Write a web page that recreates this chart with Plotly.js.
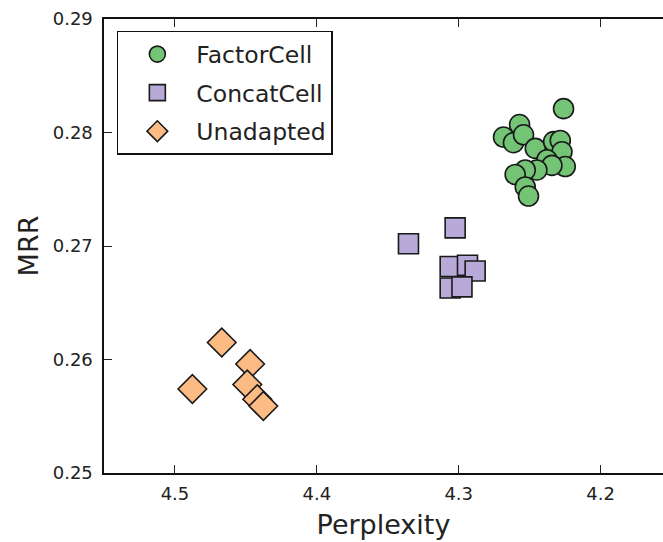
<!DOCTYPE html>
<html>
<head>
<meta charset="utf-8">
<script src="https://cdn.plot.ly/plotly-3.0.1.min.js"></script>
<style>html,body{margin:0;padding:0;background:#fff;}#chart{width:663px;height:542px;}</style>
</head>
<body>
<div id="chart"></div>
<script>
// Perplexity (x) and MRR (y) per model variant
const factorCellPerplexity = [4.2261, 4.2571, 4.2684, 4.2614, 4.2543, 4.2460, 4.2331, 4.2284, 4.2272, 4.2378, 4.2249, 4.2343, 4.2449, 4.2531, 4.2602, 4.2531, 4.2508];
const factorCellMRR        = [0.2821, 0.2807, 0.2796, 0.2791, 0.2798, 0.2786, 0.2792, 0.2793, 0.2783, 0.2776, 0.2770, 0.2771, 0.2767, 0.2767, 0.2763, 0.2752, 0.2744];

const concatCellPerplexity = [4.3354, 4.3025, 4.3060, 4.2938, 4.2884, 4.3060, 4.2977];
const concatCellMRR        = [0.2702, 0.2716, 0.2682, 0.2683, 0.2678, 0.2663, 0.2664];

const unadaptedPerplexity  = [4.4670, 4.4877, 4.4470, 4.4490, 4.4420, 4.4377];
const unadaptedMRR         = [0.2615, 0.2574, 0.2596, 0.2578, 0.2565, 0.2559];

const seriesNames = ["FactorCell", "ConcatCell", "Unadapted"];
const xTickVals = [4.5, 4.4, 4.3, 4.2];
const yTickVals = [0.25, 0.26, 0.27, 0.28, 0.29];

const font = "DejaVu Sans, Liberation Sans, sans-serif";
const edge = {color: "#1a1a1a", width: 1.6};

const traces = [
  {x: factorCellPerplexity, y: factorCellMRR, name: seriesNames[0], legendgroup: "a",
   mode: "markers", type: "scatter",
   marker: {symbol: "circle", size: 20, color: "#74c476", line: edge}},
  {x: concatCellPerplexity, y: concatCellMRR, name: seriesNames[1], legendgroup: "b",
   mode: "markers", type: "scatter",
   marker: {symbol: "square", size: 20, color: "#b7a9d8", line: edge}},
  {x: unadaptedPerplexity, y: unadaptedMRR, name: seriesNames[2], legendgroup: "c",
   mode: "markers", type: "scatter",
   marker: {symbol: "diamond", size: 22, color: "#fdbb84", line: edge}}
];

const layout = {
  width: 663, height: 542,
  margin: {l: 104, r: 0, t: 19, b: 69},
  paper_bgcolor: "#fff", plot_bgcolor: "#fff",
  font: {family: font, color: "#222", size: 18},
  showlegend: true,
  legend: {
    x: 0.023, y: 0.974, xanchor: "left", yanchor: "top",
    bgcolor: "#fff", bordercolor: "#111", borderwidth: 1.5,
    font: {family: font, size: 23.5, color: "#222"},
    tracegroupgap: 5, itemwidth: 68, traceorder: "grouped"
  },
  xaxis: {
    range: [4.55, 4.156], tickvals: xTickVals, ticktext: xTickVals.map(v => v.toFixed(1)),
    ticks: "inside", ticklen: 8, tickwidth: 1, tickcolor: "#222",
    showline: true, linecolor: "#111", linewidth: 1.6, mirror: "ticks",
    showgrid: false, zeroline: false, ticklabelstandoff: 4,
    tickfont: {family: font, size: 18, color: "#222"},
    title: {text: "Perplexity", font: {family: font, size: 27, color: "#222"}, standoff: 12}
  },
  yaxis: {
    range: [0.25, 0.29], tickvals: yTickVals, ticktext: yTickVals.map(v => v.toFixed(2)),
    ticks: "inside", ticklen: 8, tickwidth: 1, tickcolor: "#222",
    showline: true, linecolor: "#111", linewidth: 1.6, mirror: false,
    showgrid: false, zeroline: false, ticklabelstandoff: 6,
    tickfont: {family: font, size: 18, color: "#222"},
    title: {text: "MRR", font: {family: font, size: 27, color: "#222"}, standoff: 6}
  }
};

Plotly.newPlot("chart", traces, layout, {staticPlot: true, displayModeBar: false});
</script>
</body>
</html>
